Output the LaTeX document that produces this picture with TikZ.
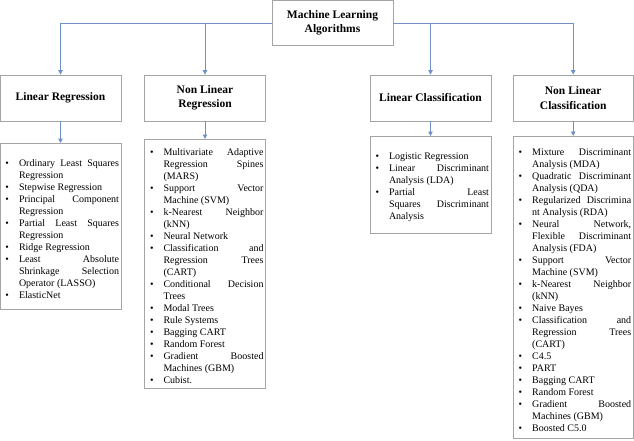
\documentclass[tikz,border=0pt]{standalone}
\usepackage{fontspec}
\setmainfont{Liberation Serif}
\usepackage{enumitem}
\usetikzlibrary{arrows.meta}

\definecolor{linkblue}{RGB}{112,144,198}
\definecolor{boxgray}{RGB}{165,165,165}

\setlist[itemize]{label=\textbullet, leftmargin=17pt, labelsep=10pt, itemsep=0pt, topsep=0pt, parsep=0pt, partopsep=0pt}
\hyphenpenalty=10000
\exhyphenpenalty=10000
\tolerance=9999

\newcommand{\algolist}[1]{\begin{itemize}#1\end{itemize}}

\begin{document}
\begin{tikzpicture}[x=1pt,y=-1pt,
	head/.style={draw=boxgray, line width=0.8pt, minimum width=121pt, minimum height=46pt, inner sep=2pt, align=center, font=\fontsize{11.5}{14.5}\selectfont\bfseries},
	listbox/.style={draw=boxgray, line width=0.8pt, anchor=north, text width=117pt, inner xsep=2pt, inner ysep=0pt, align=justify, font=\fontsize{10}{12}\selectfont},
	link/.style={draw=linkblue, line width=0.8pt, -{Triangle[length=4.5pt,width=4.5pt]}}]

\useasboundingbox (0,0) rectangle (634,440);

\node[head, minimum height=45pt] (ml) at (332.5,23) {Machine Learning\\Algorithms};

\node[head] (linreg) at (60.5,98) {Linear Regression};
\node[head] (nonlinreg) at (205,98) {Non Linear\\Regression};
\node[head] (lincls) at (430.5,98) {Linear Classification};
\node[head, minimum width=120pt] (nonlincls) at (573.2,98) {Non Linear\\Classification};

\node[listbox, minimum height=166pt] (linreglist) at (60.5,143) {\algolist{
	\item Ordinary Least Squares\linebreak Regression
	\item Stepwise Regression
	\item Principal Component\linebreak Regression
	\item Partial Least Squares\linebreak Regression
	\item Ridge Regression
	\item Least Absolute\linebreak Shrinkage Selection\linebreak Operator (LASSO)
	\item ElasticNet}};

\node[listbox, minimum height=249pt] (nonlinreglist) at (205,139) {\algolist{
	\item Multivariate Adaptive\linebreak Regression Spines\linebreak (MARS)
	\item Support Vector\linebreak Machine (SVM)
	\item k-Nearest Neighbor\linebreak (kNN)
	\item Neural Network
	\item Classification and\linebreak Regression Trees\linebreak (CART)
	\item Conditional Decision\linebreak Trees
	\item Modal Trees
	\item Rule Systems
	\item Bagging CART
	\item Random Forest
	\item Gradient Boosted\linebreak Machines (GBM)
	\item Cubist.}};

\node[listbox, minimum height=97pt] (linclslist) at (430.5,136) {\algolist{
	\item Logistic Regression
	\item Linear Discriminant\linebreak Analysis (LDA)
	\item Partial Least\linebreak Squares Discriminant\linebreak Analysis}};

\node[listbox, text width=116pt, minimum height=302pt] (nonlinclslist) at (573.2,136) {\algolist{
	\item Mixture Discriminant\linebreak Analysis (MDA)
	\item Quadratic Discriminant\linebreak Analysis (QDA)
	\item Regularized Discrimina\linebreak nt Analysis (RDA)
	\item Neural Network,\linebreak Flexible Discriminant\linebreak Analysis (FDA)
	\item Support Vector\linebreak Machine (SVM)
	\item k-Nearest Neighbor\linebreak (kNN)
	\item Naive Bayes
	\item Classification and\linebreak Regression Trees\linebreak (CART)
	\item C4.5
	\item PART
	\item Bagging CART
	\item Random Forest
	\item Gradient Boosted\linebreak Machines (GBM)
	\item Boosted C5.0}};

\draw[link] (ml.west) -| (linreg.north);
\draw[link] (ml.west) -| (nonlinreg.north);
\draw[link] (ml.east) -| (lincls.north);
\draw[link] (ml.east) -| (nonlincls.north);

\foreach \a in {linreg,nonlinreg,lincls,nonlincls}{
	\draw[link] (\a.south) -- (\a list.north);
}

\end{tikzpicture}
\end{document}
